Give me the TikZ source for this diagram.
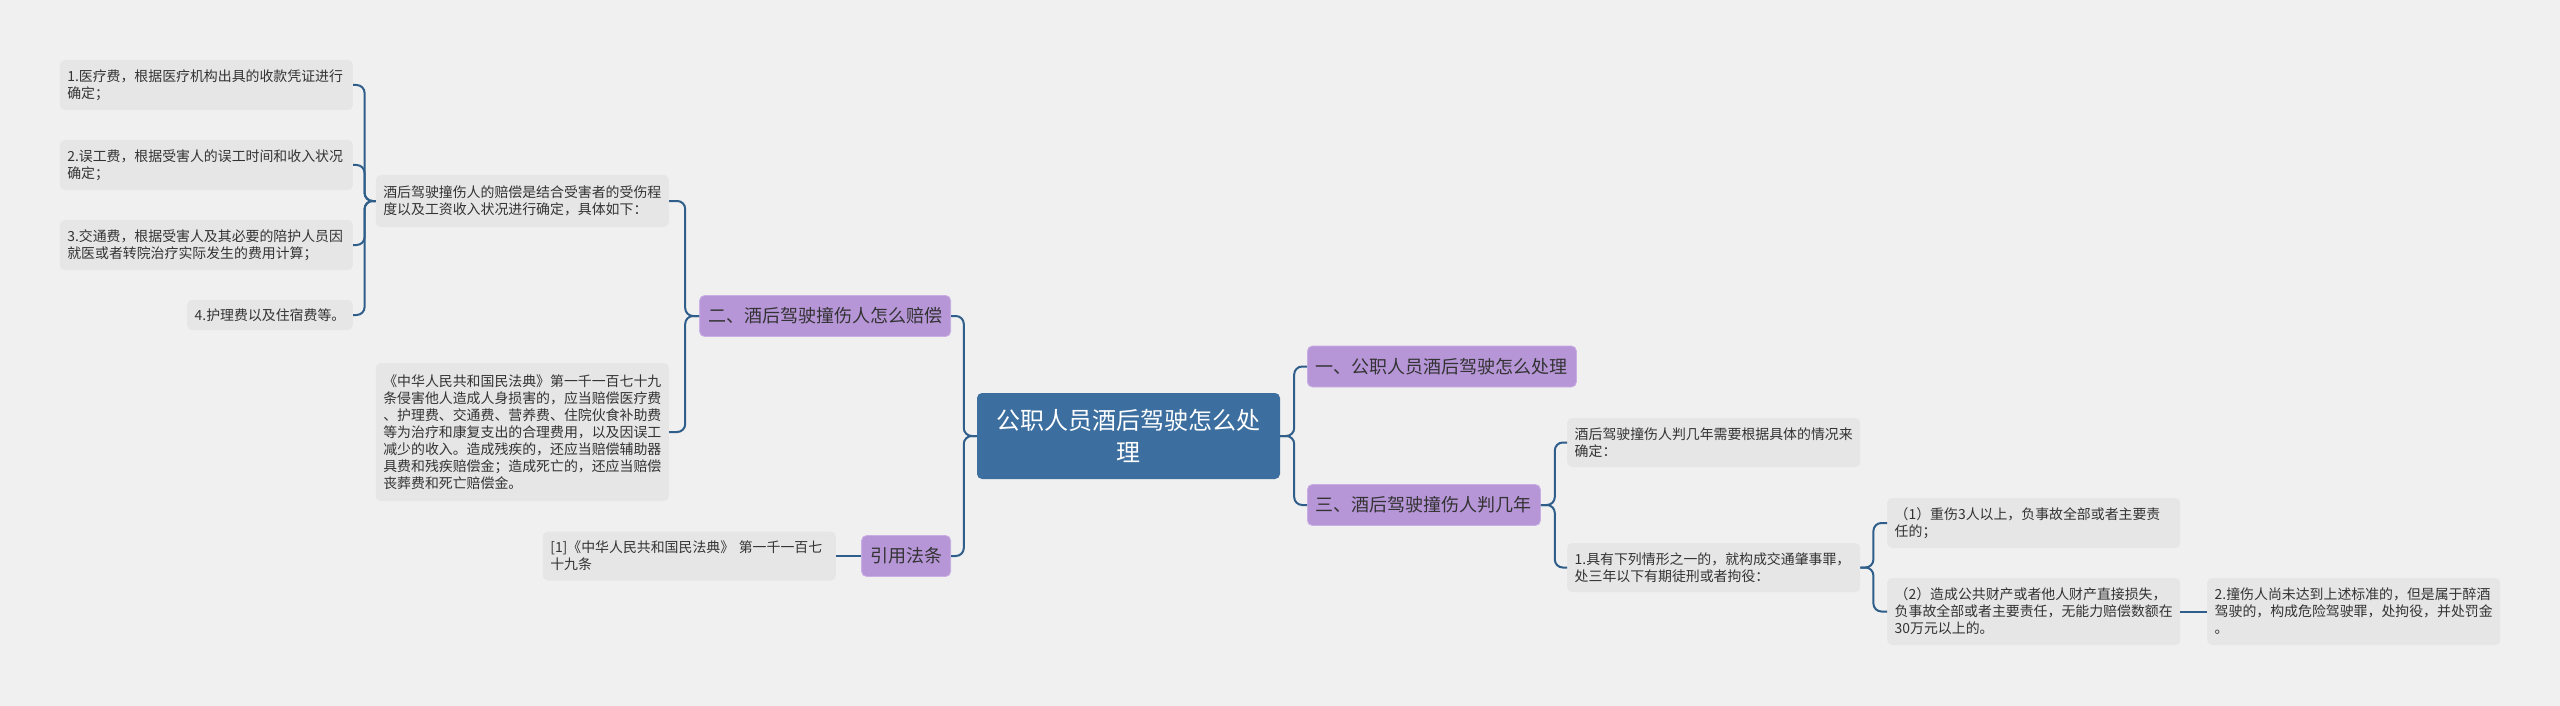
\documentclass[tikz,border=0pt]{standalone}
\usepackage{fontspec}
\setmainfont{Noto Sans CJK SC}
\usepackage{tikz}
\usepackage{xcolor}
\usetikzlibrary{positioning}
\definecolor{bgcol}{HTML}{F0F0F0}
\definecolor{rootcol}{HTML}{3C6FA0}
\definecolor{topiccol}{HTML}{B796D8}
\definecolor{topicedge}{HTML}{C9AEE3}
\definecolor{leafcol}{HTML}{E6E6E6}
\definecolor{linkcol}{HTML}{2F5E8A}
\definecolor{txtcol}{HTML}{333333}
\tikzstyle{rootnode} = [rectangle, rounded corners=5pt, fill=rootcol, text=white, align=center, minimum width=303pt, minimum height=86pt, font=\fontsize{24pt}{32pt}\selectfont]
\tikzstyle{topic} = [rectangle, rounded corners=5pt, fill=topiccol, draw=topicedge, line width=0.8pt, text=txtcol, inner xsep=8.5pt, minimum height=41pt, font=\fontsize{18pt}{22pt}\selectfont]
\tikzstyle{leaf} = [rectangle, rounded corners=5pt, fill=leafcol, text=txtcol, align=left, text width=278pt, inner xsep=7.5pt, inner ysep=4pt, font=\fontsize{13.9pt}{17pt}\selectfont]
\tikzstyle{link} = [draw=linkcol, line width=2pt, rounded corners=8pt]

\begin{document}
\begin{tikzpicture}[x=1pt, y=-1pt]
	\fill[bgcol] (0,0) rectangle (2560,706);
	\useasboundingbox (0,0) rectangle (2560,706);

	% centre and main topics
	\node(root) at (1128.5, 436) [rootnode] {公职人员酒后驾驶怎么处\\理};
	\node(b1) at (1307, 366.5) [topic, anchor=west] {一、公职人员酒后驾驶怎么处理};
	\node(b3) at (1307, 505) [topic, anchor=west] {三、酒后驾驶撞伤人判几年};
	\node(b2) at (951, 316) [topic, anchor=east] {二、酒后驾驶撞伤人怎么赔偿};
	\node(b4) at (951, 556) [topic, anchor=east] {引用法条};

	% left side
	\node(t1) at (669, 201) [leaf, anchor=east, minimum height=52pt] {酒后驾驶撞伤人的赔偿是结合受害者的受伤程\\度以及工资收入状况进行确定，具体如下：};
	\node(t2) at (669, 432) [leaf, anchor=east, minimum height=138pt] {《中华人民共和国民法典》第一千一百七十九\\条侵害他人造成人身损害的，应当赔偿医疗费\\、护理费、交通费、营养费、住院伙食补助费\\等为治疗和康复支出的合理费用，以及因误工\\减少的收入。造成残疾的，还应当赔偿辅助器\\具费和残疾赔偿金；造成死亡的，还应当赔偿\\丧葬费和死亡赔偿金。};
	\node(l1) at (353, 85) [leaf, anchor=east, minimum height=50pt] {1.医疗费，根据医疗机构出具的收款凭证进行\\确定；};
	\node(l2) at (353, 165) [leaf, anchor=east, minimum height=50pt] {2.误工费，根据受害人的误工时间和收入状况\\确定；};
	\node(l3) at (353, 245) [leaf, anchor=east, minimum height=50pt] {3.交通费，根据受害人及其必要的陪护人员因\\就医或者转院治疗实际发生的费用计算；};
	\node(l4) at (353, 315) [leaf, anchor=east, text width=, minimum height=30pt] {4.护理费以及住宿费等。};
	\node(r1) at (836, 556) [leaf, anchor=east, minimum height=49pt] {[1]《中华人民共和国民法典》 第一千一百七\\十九条};

	% right side
	\node(c1) at (1567, 442.5) [leaf, anchor=west, minimum height=49pt] {酒后驾驶撞伤人判几年需要根据具体的情况来\\确定：};
	\node(c2) at (1567, 567.5) [leaf, anchor=west, minimum height=49pt] {1.具有下列情形之一的，就构成交通肇事罪，\\处三年以下有期徒刑或者拘役：};
	\node(d1) at (1887, 523) [leaf, anchor=west, minimum height=50pt] {（1）重伤3人以上，负事故全部或者主要责\\任的；};
	\node(d2) at (1887, 611.5) [leaf, anchor=west, minimum height=67pt] {（2）造成公共财产或者他人财产直接损失，\\负事故全部或者主要责任，无能力赔偿数额在\\30万元以上的。};
	\node(e1) at (2207, 611.5) [leaf, anchor=west, minimum height=67pt] {2.撞伤人尚未达到上述标准的，但是属于醉酒\\驾驶的，构成危险驾驶罪，处拘役，并处罚金\\。};

	% connectors
	\draw [link] (root.east) -- ++(14,0) |- (b1.west);
	\draw [link] (root.east) -- ++(14,0) |- (b3.west);
	\draw [link] (root.west) -- ++(-13,0) |- (b2.east);
	\draw [link] (root.west) -- ++(-13,0) |- (b4.east);
	\draw [link] (b2.west) -- ++(-14,0) |- (t1.east);
	\draw [link] (b2.west) -- ++(-14,0) |- (t2.east);
	\draw [link] (t1.west) -- ++(-11,0) |- (l1.east);
	\draw [link] (t1.west) -- ++(-11,0) |- (l2.east);
	\draw [link] (t1.west) -- ++(-11,0) |- (l3.east);
	\draw [link] (t1.west) -- ++(-11,0) |- (l4.east);
	\draw [link] (b4.west) -- (r1.east);
	\draw [link] (b3.east) -- ++(14,0) |- (c1.west);
	\draw [link] (b3.east) -- ++(14,0) |- (c2.west);
	\draw [link] (c2.east) -- ++(13,0) |- (d1.west);
	\draw [link] (c2.east) -- ++(13,0) |- (d2.west);
	\draw [link] (d2.east) -- (e1.west);
\end{tikzpicture}
\end{document}
